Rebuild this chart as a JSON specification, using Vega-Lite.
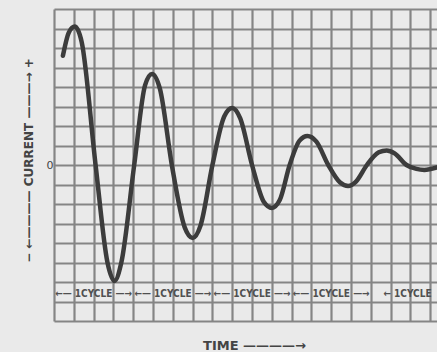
{
  "$schema": "https://vega.github.io/schema/vega-lite/v6.json",
  "width": 383,
  "height": 312,
  "autosize": "none",
  "padding": {"left": 54, "top": 9, "right": 0, "bottom": 31},
  "background": "#eaeaea",
  "config": {"view": {"stroke": null}},
  "datasets": {
    "curve": [
      {"t": 0.45, "i": 5.6},
      {"t": 0.75, "i": 6.8},
      {"t": 1.05, "i": 7.1},
      {"t": 1.4, "i": 6.3},
      {"t": 2.1, "i": 0},
      {"t": 2.7, "i": -5.0},
      {"t": 3.05, "i": -5.95},
      {"t": 3.4, "i": -5.0},
      {"t": 4.05, "i": 0},
      {"t": 4.6, "i": 4.1},
      {"t": 4.95, "i": 4.67},
      {"t": 5.35, "i": 3.9},
      {"t": 5.95, "i": 0},
      {"t": 6.6, "i": -3.2},
      {"t": 7.0, "i": -3.74},
      {"t": 7.4, "i": -3.1},
      {"t": 8.0, "i": 0},
      {"t": 8.6, "i": 2.5},
      {"t": 9.0, "i": 2.92},
      {"t": 9.4, "i": 2.4},
      {"t": 10.0, "i": 0},
      {"t": 10.6, "i": -1.9},
      {"t": 11.0, "i": -2.2},
      {"t": 11.4, "i": -1.8},
      {"t": 11.9, "i": 0},
      {"t": 12.4, "i": 1.25},
      {"t": 12.8, "i": 1.49},
      {"t": 13.25, "i": 1.2},
      {"t": 13.85, "i": 0},
      {"t": 14.45, "i": -0.9},
      {"t": 14.85, "i": -1.08},
      {"t": 15.25, "i": -0.85},
      {"t": 15.8, "i": 0},
      {"t": 16.4, "i": 0.65},
      {"t": 16.8, "i": 0.75},
      {"t": 17.2, "i": 0.6},
      {"t": 17.8, "i": 0},
      {"t": 18.3, "i": -0.2},
      {"t": 18.7, "i": -0.25},
      {"t": 19.34, "i": -0.12}
    ],
    "cycles": [
      {"t": 2, "i": -6.6, "label": "←— 1CYCLE —→"},
      {"t": 6, "i": -6.6, "label": "←— 1CYCLE —→"},
      {"t": 10, "i": -6.6, "label": "←— 1CYCLE —→"},
      {"t": 14, "i": -6.6, "label": "←— 1CYCLE —→"},
      {"t": 17.85, "i": -6.6, "label": "← 1CYCLE"}
    ]
  },
  "layer": [
    {
      "data": {"name": "curve"},
      "mark": {"type": "line", "interpolate": "monotone", "color": "#3c3c3c", "strokeWidth": 4.5, "strokeCap": "round", "strokeJoin": "round"},
      "encoding": {
        "x": {
          "field": "t", "type": "quantitative",
          "scale": {"domain": [0, 19.34], "nice": false, "zero": false},
          "axis": {
            "values": [0,1,2,3,4,5,6,7,8,9,10,11,12,13,14,15,16,17,18,19],
            "tickCount": 40,
            "grid": true, "gridColor": "#858585", "gridWidth": 2.2,
            "labels": false, "ticks": false, "tickSize": 0, "domain": false,
            "title": "TIME ————→",
            "titleX": 200, "titleY": 28, "titleBaseline": "alphabetic", "titleAlign": "center",
            "titleFont": "DejaVu Sans", "titleFontSize": 13, "titleFontWeight": "bold", "titleColor": "#444444"
          }
        },
        "y": {
          "field": "i", "type": "quantitative",
          "scale": {"domain": [-8, 8], "nice": false},
          "axis": {
            "values": [-8,-7,-6,-5,-4,-3,-2,-1,0,1,2,3,4,5,6,7,8],
            "tickCount": 40,
            "grid": true, "gridColor": "#858585", "gridWidth": 2.2,
            "labelExpr": "datum.value === 0 ? '0' : ''",
            "labelFont": "DejaVu Sans", "labelFontSize": 11, "labelColor": "#444444", "labelPadding": 1,
            "ticks": false, "tickSize": 0, "domain": false,
            "title": "−   ←————  CURRENT  ———→   +",
            "titleX": -26, "titleY": 151, "titleAngle": 270, "titleAlign": "center", "titleBaseline": "middle",
            "titleFont": "DejaVu Sans", "titleFontSize": 12, "titleFontWeight": "bold", "titleColor": "#444444"
          }
        }
      }
    },
    {
      "data": {"name": "cycles"},
      "mark": {"type": "text", "font": "DejaVu Sans Condensed", "fontSize": 10, "fontWeight": "bold", "color": "#505050", "baseline": "middle", "align": "center"},
      "encoding": {
        "x": {"field": "t", "type": "quantitative"},
        "y": {"field": "i", "type": "quantitative"},
        "text": {"field": "label"}
      }
    }
  ]
}
